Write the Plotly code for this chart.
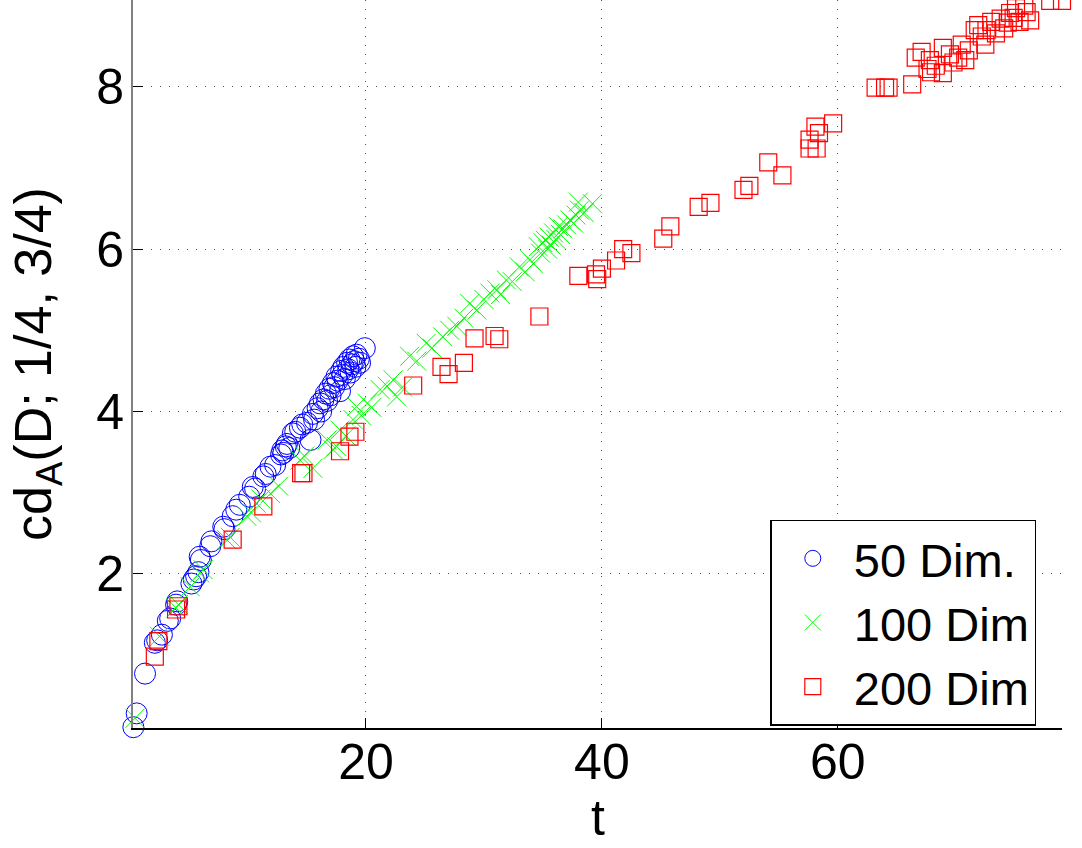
import plotly.graph_objects as go

# 50 Dim. (blue circles)
t50 = [0.28, 0.56, 1.27, 2.1, 2.3, 2.7, 3.2, 3.4, 3.9, 4.0, 5.2, 5.4, 5.6, 5.8, 5.9, 6.0,
       6.8, 6.9, 7.9, 8.0, 8.7, 9.0, 9.3, 10.1, 10.4, 10.6, 11.3, 11.5, 11.9, 12.3, 12.8,
       12.9, 13.0, 13.2, 13.3, 13.5, 13.8, 14.0, 14.4, 14.6, 15.0, 15.3, 15.5, 15.6, 15.9,
       16.1, 16.2, 16.4, 16.6, 16.7, 16.9, 17.0, 17.2, 17.3, 17.5, 17.6, 17.8, 17.9, 18.0,
       18.1, 18.2, 18.4, 18.5, 18.6, 18.7, 18.8, 18.9, 19.0, 19.1, 19.2, 19.4, 19.5, 19.9]
cd50 = [0.11, 0.28, 0.77, 1.15, 1.18, 1.25, 1.42, 1.45, 1.62, 1.66, 1.88, 1.93, 1.97, 2.02, 2.21, 2.17,
        2.34, 2.40, 2.58, 2.55, 2.71, 2.79, 2.85, 2.95, 3.07, 3.05, 3.20, 3.23, 3.32, 3.34, 3.47,
        3.52, 3.49, 3.57, 3.60, 3.55, 3.73, 3.75, 3.80, 3.84, 3.86, 3.65, 3.97, 3.90, 4.04,
        4.10, 4.00, 4.15, 4.22, 4.13, 4.28, 4.20, 4.35, 4.30, 4.43, 4.38, 4.25, 4.50, 4.45,
        4.55, 4.40, 4.60, 4.52, 4.64, 4.48, 4.58, 4.68, 4.62, 4.55, 4.70, 4.65, 4.60, 4.78]

# 100 Dim (green crosses)
t100 = [0.42, 2.5, 3.9, 4.1, 5.1, 5.9, 6.2, 8.2, 8.5, 9.9, 10.3, 10.7, 11.1, 11.9, 12.6,
        14.4, 14.8, 15.5, 16.7, 17.2, 17.5, 17.8, 18.3, 18.9, 19.2, 19.6, 20.1, 20.5, 21.2,
        21.8, 22.3, 22.6, 23.1, 23.7, 24.3, 25.1, 25.6, 26.5, 27.1, 27.7, 28.3, 28.8, 29.4,
        30.0, 30.5, 31.1, 31.4, 31.9, 32.4, 33.0, 33.5, 33.9, 34.2, 34.6, 34.8, 35.0, 35.2,
        35.4, 35.5, 35.7, 35.9, 36.1, 36.3, 36.5, 36.7, 37.0, 37.3, 37.6, 37.8, 38.0, 38.1,
        38.5, 39.2]
cd100 = [0.22, 1.23, 1.58, 1.62, 1.84, 2.01, 2.05, 2.42, 2.45, 2.71, 2.75, 2.87, 2.92, 2.99, 3.08,
         3.40, 3.45, 3.30, 3.65, 3.53, 3.57, 3.77, 3.70, 3.90, 4.06, 3.95, 4.10, 4.05, 4.27,
         4.31, 4.39, 4.18, 4.30, 4.68, 4.62, 4.84, 4.78, 4.92, 5.00, 5.05, 5.15, 5.33, 5.25,
         5.38, 5.46, 5.50, 5.44, 5.62, 5.60, 5.78, 5.72, 5.87, 5.82, 6.03, 5.95, 6.08, 6.11,
         6.00, 6.15, 6.05, 6.20, 6.12, 6.28, 6.18, 6.25, 6.30, 6.36, 6.32, 6.42, 6.58, 6.48,
         6.45, 6.56]

# 200 Dim (red squares)
t200 = [2.1, 2.4, 3.9, 4.1, 8.7, 11.3, 14.5, 14.7, 17.8, 18.6, 19.1, 24.0, 26.4, 27.0, 28.3,
        29.2, 30.9, 31.3, 34.7, 38.0, 39.5, 39.6, 40.0, 41.2, 41.8, 42.5, 45.2, 45.8, 48.2,
        49.2, 52.0, 52.5, 54.1, 55.3, 57.6, 57.6, 58.1, 58.2, 58.4, 59.6, 63.2, 64.0, 64.3,
        66.3, 66.6, 67.1, 67.6, 67.8, 67.9, 68.3, 68.9, 68.9, 69.5, 69.8, 70.2, 70.5, 70.8,
        71.1, 71.6, 71.9, 72.2, 72.5, 72.6, 73.0, 73.4, 73.8, 74.1, 74.4, 74.6, 74.9, 75.1,
        75.4, 75.8, 76.0, 76.3, 78.0, 79.0]
cd200 = [0.98, 1.17, 1.56, 1.60, 2.42, 2.83, 3.24, 3.24, 3.51, 3.69, 3.75, 4.32, 4.55, 4.46, 4.60,
         4.90, 4.93, 4.89, 5.17, 5.67, 5.69, 5.63, 5.76, 5.86, 6.00, 5.95, 6.13, 6.28, 6.52,
         6.57, 6.73, 6.78, 7.07, 6.91, 7.24, 7.35, 7.51, 7.24, 7.43, 7.55, 7.99, 7.99, 7.99,
         8.03, 8.36, 8.43, 8.22, 8.33, 8.18, 8.26, 8.17, 8.48, 8.40, 8.30, 8.36, 8.52, 8.33,
         8.45, 8.70, 8.76, 8.62, 8.52, 8.70, 8.80, 8.66, 8.84, 8.72, 8.79, 8.91, 8.85, 8.97,
         8.80, 9.00, 8.92, 8.82, 9.06, 9.06]

FONT = "Liberation Sans, Arial, Helvetica, sans-serif"

fig = go.Figure()
fig.add_trace(go.Scatter(x=t50, y=cd50, mode="markers", name="50 Dim.", cliponaxis=False,
                         marker=dict(symbol="circle-open", size=21, color="#0000FF",
                                     line=dict(width=1, color="#0000FF"))))
fig.add_trace(go.Scatter(x=t100, y=cd100, mode="markers", name="100 Dim", cliponaxis=False,
                         marker=dict(symbol="x-thin-open", size=19, color="#00FF00",
                                     line=dict(width=1, color="#00FF00"))))
fig.add_trace(go.Scatter(x=t200, y=cd200, mode="markers", name="200 Dim", cliponaxis=False,
                         marker=dict(symbol="square-open", size=17, color="#FF0000",
                                     line=dict(width=1.2, color="#FF0000"))))

fig.update_layout(
    width=1082, height=848,
    margin=dict(l=133, r=20, t=0, b=120),
    paper_bgcolor="white", plot_bgcolor="white",
    font=dict(family=FONT, size=50, color="black"),
    showlegend=True,
    legend=dict(x=0.686, y=0.286, xanchor="left", yanchor="top",
                bgcolor="white", bordercolor="black", borderwidth=1.5,
                font=dict(size=47, family=FONT), itemwidth=72,
                tracegroupgap=0),
    xaxis=dict(range=[0.25, 79.0], tickvals=[20, 40, 60], ticks="inside", ticklen=10,
               tickcolor="black", showline=True, linecolor="black", linewidth=1.5,
               showgrid=True, gridcolor="#555555", gridwidth=1, griddash="1px,8px",
               zeroline=False, tickfont=dict(size=50, family=FONT), ticklabelstandoff=-11),
    yaxis=dict(range=[0.1, 9.07], tickvals=[2, 4, 6, 8], ticks="inside", ticklen=10,
               tickcolor="black", showline=True, linecolor="#808080", linewidth=2,
               showgrid=True, gridcolor="#555555", gridwidth=1, griddash="1px,8px",
               zeroline=False, tickfont=dict(size=50, family=FONT), ticklabelstandoff=-3,
               title=dict(text="cd<sub>A</sub>(D; 1/4, 3/4)", font=dict(size=52, family=FONT),
                          standoff=28)),
    annotations=[dict(text="t", xref="paper", yref="paper", x=0.5, y=-120 / 728,
                      xanchor="center", yanchor="bottom", showarrow=False,
                      font=dict(size=50, family=FONT, color="black"))],
)

fig.write_html("out.html")
